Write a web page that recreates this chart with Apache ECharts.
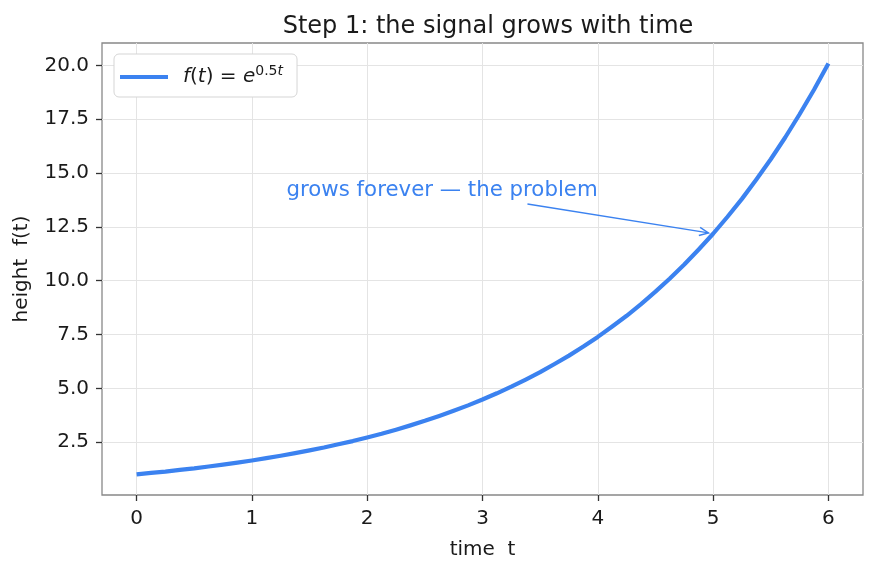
<!DOCTYPE html>
<html>
<head>
<meta charset="utf-8">
<script src="https://cdn.jsdelivr.net/npm/echarts@6/dist/echarts.min.js"></script>
<style>
  html, body { margin: 0; padding: 0; background: #fff; }
  #chart { width: 876px; height: 571px; }
</style>
</head>
<body>
<div id="chart"></div>
<script>
// values
const timeValues = [0, 0.125, 0.25, 0.375, 0.5, 0.625, 0.75, 0.875, 1, 1.125, 1.25, 1.375, 1.5, 1.625, 1.75, 1.875,
    2, 2.125, 2.25, 2.375, 2.5, 2.625, 2.75, 2.875, 3, 3.125, 3.25, 3.375, 3.5, 3.625, 3.75, 3.875,
    4, 4.125, 4.25, 4.375, 4.5, 4.625, 4.75, 4.875, 5, 5.125, 5.25, 5.375, 5.5, 5.625, 5.75, 5.875, 6];
const heightValues = [1.00, 1.07, 1.13, 1.21, 1.28, 1.37, 1.46, 1.55, 1.65, 1.76, 1.87, 1.99, 2.12, 2.25, 2.40, 2.55,
    2.72, 2.89, 3.08, 3.28, 3.49, 3.72, 3.96, 4.21, 4.48, 4.77, 5.08, 5.41, 5.75, 6.13, 6.52, 6.94,
    7.39, 7.87, 8.37, 8.91, 9.49, 10.10, 10.75, 11.45, 12.18, 12.97, 13.80, 14.70, 15.64, 16.65, 17.73, 18.87, 20.09];
const xTicks = [0, 1, 2, 3, 4, 5, 6];
const yTicks = [2.5, 5.0, 7.5, 10.0, 12.5, 15.0, 17.5, 20.0];
const noteText = 'grows forever — the problem';
const noteAt = [1.3, 14.0];
const arrowFrom = [3.39, 13.56];
const arrowTo = [4.96, 12.22];

const BLUE = '#3b82f0';
const INK = '#1a1a1a';
const FONT = 'DejaVu Sans';

const chart = echarts.init(document.getElementById('chart'));

const curveData = timeValues.map((t, i) => [t, heightValues[i]]);

const option = {
    animation: false,
    title: {
        text: 'Step 1: the signal grows with time',
        left: 483,
        textAlign: 'center',
        top: 10,
        textStyle: { fontFamily: FONT, fontSize: 24, fontWeight: 'normal', color: INK },
    },
    grid: { left: 102, right: 13, top: 43, bottom: 76, show: true, borderColor: '#888', borderWidth: 1.3, backgroundColor: 'transparent' },
    legend: {
        left: 114,
        top: 54,
        orient: 'vertical',
        itemWidth: 48,
        itemHeight: 4,
        itemGap: 0,
        padding: [10, 14, 10, 6],
        borderColor: '#d5d5d5',
        borderWidth: 1,
        borderRadius: 5,
        backgroundColor: '#fff',
        data: [{ name: 'curve', icon: 'rect' }],
        formatter: () => '{i|f}{n|(}{i|t}{n|) = }{i|e}{s|0.5}{si|t}',
        textStyle: {
            fontFamily: FONT,
            fontSize: 20,
            color: INK,
            padding: [0, 0, 0, 10],
            rich: {
                i: { fontFamily: FONT, fontSize: 20, fontStyle: 'italic', color: INK },
                n: { fontFamily: FONT, fontSize: 20, color: INK },
                s: { fontFamily: FONT, fontSize: 14, color: INK, padding: [0, 0, 12, 0] },
                si: { fontFamily: FONT, fontSize: 14, fontStyle: 'italic', color: INK, padding: [0, 0, 12, 0] },
            },
        },
    },
    xAxis: {
        type: 'value',
        min: -0.3,
        max: 6.3,
        name: 'time  t',
        nameLocation: 'middle',
        nameGap: 45,
        nameTextStyle: { fontFamily: FONT, fontSize: 20, color: INK },
        axisLine: { show: false, onZero: false },
        axisTick: { show: true, customValues: xTicks, length: 6, lineStyle: { color: '#333', width: 1.3 } },
        axisLabel: { customValues: xTicks, fontFamily: FONT, fontSize: 20, color: INK, margin: 14 },
        splitLine: { show: true, lineStyle: { color: '#e4e4e4', width: 1 } },
    },
    yAxis: {
        type: 'value',
        min: 0.046,
        max: 21.04,
        name: 'height  f(t)',
        nameLocation: 'middle',
        nameGap: 70,
        nameTextStyle: { fontFamily: FONT, fontSize: 20, color: INK },
        axisLine: { show: false, onZero: false },
        axisTick: { show: true, customValues: yTicks, length: 6, lineStyle: { color: '#333', width: 1.3 } },
        axisLabel: { customValues: yTicks, formatter: v => v.toFixed(1), fontFamily: FONT, fontSize: 20, color: INK, margin: 13 },
        splitLine: { show: true, lineStyle: { color: '#e4e4e4', width: 1 } },
    },
    series: [
        {
            name: 'curve',
            type: 'line',
            data: curveData,
            showSymbol: false,
            symbol: 'none',
            lineStyle: { color: BLUE, width: 4.2, cap: 'butt', join: 'round' },
            itemStyle: { color: BLUE },
            z: 3,
        },
        {
            name: 'note',
            type: 'custom',
            data: [[noteAt[0], noteAt[1], arrowFrom[0], arrowFrom[1], arrowTo[0], arrowTo[1]]],
            renderItem: (params, api) => {
                const p = api.coord([api.value(0), api.value(1)]);
                const a = api.coord([api.value(2), api.value(3)]);
                const b = api.coord([api.value(4), api.value(5)]);
                const ang = Math.atan2(b[1] - a[1], b[0] - a[0]);
                const head = 10;
                const spread = 0.42;
                const h1 = [b[0] - head * Math.cos(ang - spread), b[1] - head * Math.sin(ang - spread)];
                const h2 = [b[0] - head * Math.cos(ang + spread), b[1] - head * Math.sin(ang + spread)];
                const stroke = { stroke: BLUE, lineWidth: 1.4, fill: null };
                return {
                    type: 'group',
                    children: [
                        {
                            type: 'text',
                            x: p[0],
                            y: p[1] + 6,
                            style: { text: noteText, fill: BLUE, fontFamily: FONT, fontSize: 21.3, align: 'left', verticalAlign: 'bottom' },
                        },
                        { type: 'line', shape: { x1: a[0], y1: a[1], x2: b[0], y2: b[1] }, style: stroke },
                        { type: 'polyline', shape: { points: [h1, b, h2] }, style: stroke },
                    ],
                };
            },
            z: 4,
        },
    ],
};

chart.setOption(option);
</script>
</body>
</html>
